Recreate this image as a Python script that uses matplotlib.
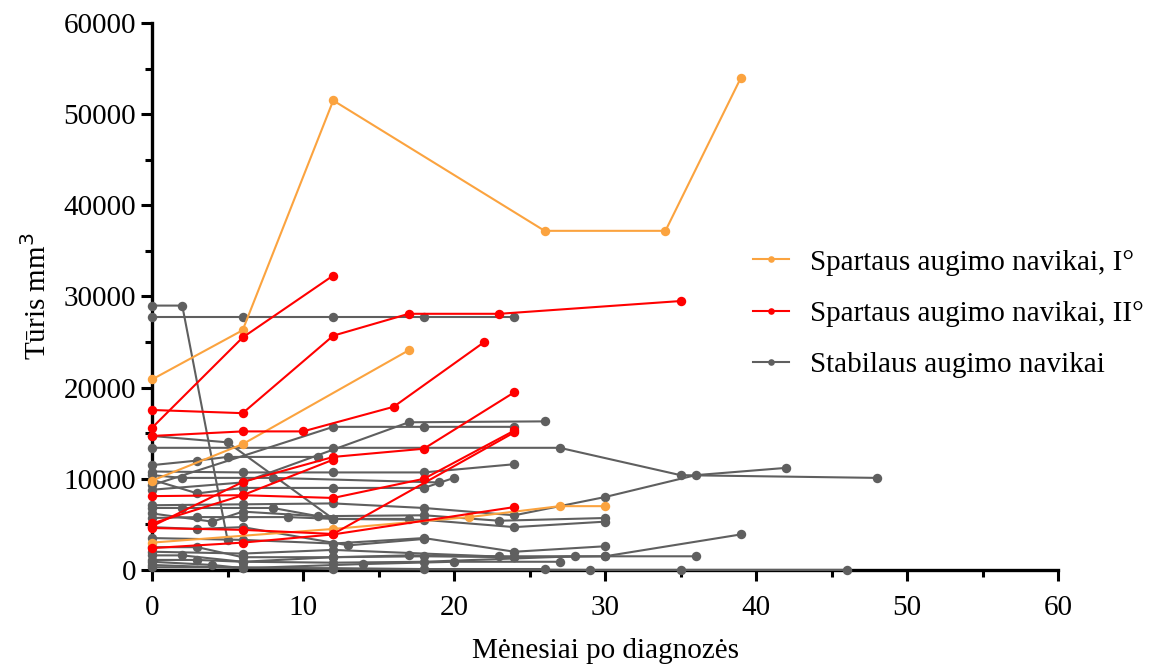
import matplotlib.pyplot as plt

plt.rcParams['font.family'] = ['Liberation Serif', 'DejaVu Serif']

ORANGE = '#FBA33F'
RED = '#FF0000'
GRAY = '#5F5F5F'

# spartaus augimo navikai, I laipsnis
orange_x = [
    [0, 6, 12, 26, 34, 39],
    [0, 6, 17],
    [0, 12, 21, 27, 30],
]
orange_y = [
    [20900, 26300, 51500, 37200, 37200, 54000],
    [9800, 13800, 24100],
    [3000, 4500, 5800, 7000, 7000],
]

# spartaus augimo navikai, II laipsnis
red_x = [
    [0, 6, 12, 17, 23, 35],
    [0, 6, 12],
    [0, 6, 10, 16, 22],
    [0, 6, 12, 18, 24],
    [0, 6, 12],
    [0, 6, 12, 18, 24],
    [0, 6, 12, 24],
    [0, 6, 12, 24],
]
red_y = [
    [17550, 17200, 25700, 28100, 28100, 29500],
    [15600, 25500, 32300],
    [14700, 15200, 15200, 17900, 25000],
    [4800, 9650, 12400, 13300, 19500],
    [8100, 8200, 12100],
    [5100, 8200, 7900, 10000, 15300],
    [4600, 4400, 3950, 15100],
    [2400, 3000, 3900, 6900],
]

# stabilaus augimo navikai
gray_x = [
    [0, 2, 5],
    [0, 6, 12, 18, 24],
    [0, 12, 27, 35, 48],
    [0, 6, 17, 26],
    [0, 12, 18, 24],
    [0, 5, 12, 18, 24, 30],
    [0, 3, 5, 11],
    [0, 6, 12, 18, 24],
    [0, 2, 8, 19],
    [0, 3, 6, 12, 18, 20],
    [0, 6, 12, 18, 24, 30, 36, 42],
    [0, 2, 8, 12],
    [0, 3, 6, 9, 12, 17],
    [0, 4, 6, 11, 18, 23, 30],
    [0, 3, 6, 13, 18],
    [0, 6, 12, 18, 24, 30],
    [0, 3, 6, 12, 17, 23, 30, 39],
    [0, 2, 6, 12, 18, 24, 30, 36],
    [0, 3, 6, 12, 18, 28],
    [0, 4, 6, 14, 20, 27],
    [0, 6, 12, 18, 26],
    [0, 6, 12, 29, 35, 46],
    [0, 6, 12, 24],
]
gray_y = [
    [29000, 29000, 3300],
    [27700, 27700, 27700, 27700, 27700],
    [13400, 13400, 13400, 10400, 10100],
    [8800, 9600, 16200, 16300],
    [9300, 15700, 15700, 15700],
    [14700, 14000, 5600, 5500, 4700, 5300],
    [11500, 12000, 12400, 12400],
    [10800, 10700, 10700, 10700, 11600],
    [10400, 10100, 10100, 9600],
    [9900, 8400, 9000, 9000, 9000, 10100],
    [7100, 7200, 7300, 6800, 6000, 8000, 10400, 11200],
    [6800, 6800, 6800, 5600],
    [5700, 5800, 5800, 5800, 5600, 5600],
    [6200, 5300, 6400, 5900, 6000, 5400, 5700],
    [4700, 4500, 4700, 2700, 3400],
    [3500, 3300, 2900, 3500, 2000, 2600],
    [2500, 2500, 1400, 1400, 1600, 1500, 1500, 3900],
    [1600, 1600, 900, 1400, 1500, 1400, 1500, 1500],
    [1100, 1100, 900, 800, 900, 1500],
    [900, 550, 200, 650, 900, 900],
    [550, 200, 200, 100, 100],
    [300, 300, 100, 0, 0, 0],
    [2000, 1800, 2200, 1400],
]

labels = ['Spartaus augimo navikai, I°', 'Spartaus augimo navikai, II°', 'Stabilaus augimo navikai']

fig = plt.figure(figsize=(11.66, 6.70), dpi=100)
ax = fig.add_axes([0.1304, 0.1493, 0.7770, 0.8164])

def draw(xs, ys, color, label):
    for i, (x, y) in enumerate(zip(xs, ys)):
        ax.plot(x, y, color=color, lw=1.5, marker='o', ms=6.8, mew=0,
                clip_on=False, zorder=3, label=label if i == 0 else None)

draw(gray_x, gray_y, GRAY, labels[2])
draw(orange_x, orange_y, ORANGE, labels[0])
draw(red_x, red_y, RED, labels[1])

ax.set_xlim(0, 60)
ax.set_ylim(0, 60000)
ax.set_xticks(range(0, 61, 10))
ax.set_xticks(range(5, 60, 10), minor=True)
ax.set_yticks(range(0, 60001, 10000))
ax.set_yticks(range(5000, 60000, 10000), minor=True)

for s in ['top', 'right']:
    ax.spines[s].set_visible(False)
for s in ['left', 'bottom']:
    ax.spines[s].set_linewidth(2.4)
ax.tick_params(which='major', length=8, width=2.2, labelsize=21)
ax.tick_params(axis='x', which='major', pad=10)
ax.tick_params(which='minor', length=5, width=2.2)

ax.set_xlabel('Mėnesiai po diagnozės', fontsize=21, labelpad=12)
ax.set_ylabel('Tūris mm$^3$', fontsize=21, labelpad=8)

h, l = ax.get_legend_handles_labels()
order = [l.index(t) for t in labels]
leg = fig.legend([h[i] for i in order], labels, loc='center left',
                 bbox_to_anchor=(0.623, 0.532), frameon=False, fontsize=21,
                 handlelength=1.25, handletextpad=0.7, labelspacing=0.85,
                 markerscale=0.7)

fig.savefig('out.png', dpi=100)
